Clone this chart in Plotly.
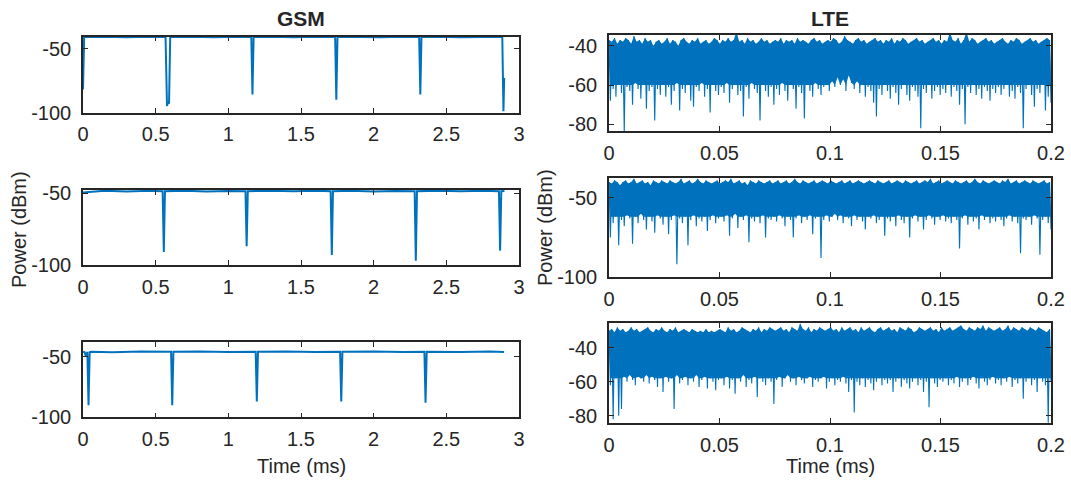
import numpy as np
import plotly.graph_objects as go

# ---------------- data ----------------
gsm_xticks = [0, 0.5, 1, 1.5, 2, 2.5, 3]
gsm_xticktext = ["0", "0.5", "1", "1.5", "2", "2.5", "3"]
lte_xticks = [0, 0.05, 0.1, 0.15, 0.2]
lte_xticktext = ["0", "0.05", "0.1", "0.15", "0.2"]

gsm1_t = [0, 0.008, 0.15, 0.3, 0.45, 0.568, 0.578, 0.585, 0.592, 0.6, 0.75, 0.9, 1.05,
          1.158, 1.166, 1.174, 1.3, 1.45, 1.6, 1.735, 1.743, 1.751, 1.9, 2.05, 2.2,
          2.313, 2.321, 2.329, 2.45, 2.6, 2.75, 2.885, 2.893, 2.898]
gsm1_p = [-82, -41, -40.7, -41.2, -40.8, -41, -95, -92, -93, -41, -40.8, -41.1, -40.7,
          -41, -86, -41, -40.8, -41.2, -40.7, -41, -90, -41, -40.9, -41.2, -40.8,
          -41, -86, -41, -40.8, -41.1, -40.9, -41, -99, -73]

gsm2_t = [0, 0.15, 0.3, 0.45, 0.548, 0.556, 0.564, 0.7, 0.85, 1.0, 1.118, 1.126, 1.134,
          1.3, 1.45, 1.6, 1.704, 1.712, 1.72, 1.85, 2.0, 2.15, 2.282, 2.29, 2.298,
          2.45, 2.6, 2.75, 2.862, 2.87, 2.878, 2.9]
gsm2_p = [-49.5, -48.3, -48.8, -48.4, -48.6, -91, -48.6, -48.3, -48.8, -48.5, -48.6, -87, -48.6,
          -48.4, -48.7, -48.3, -48.6, -93, -48.6, -48.4, -48.8, -48.5, -48.6, -97, -48.6,
          -48.3, -48.7, -48.4, -48.6, -90, -48.6, -48.5]

gsm3_t = [0, 0.012, 0.02, 0.03, 0.038, 0.046, 0.06, 0.2, 0.4, 0.606, 0.614, 0.622,
          0.8, 1.0, 1.188, 1.196, 1.204, 1.4, 1.6, 1.769, 1.777, 1.785,
          2.0, 2.2, 2.349, 2.357, 2.365, 2.6, 2.8, 2.897]
gsm3_p = [-46, -46.5, -50, -46.2, -90, -46.3, -46, -46.4, -45.8, -46.1, -90, -46.1,
          -45.9, -46.3, -46.1, -87, -46.1, -45.8, -46.2, -46.1, -87, -46.1,
          -45.9, -46.3, -46.1, -88, -46.1, -46.2, -45.9, -46.2]

# LTE: local maxima (peaks) and local minima (troughs) of the dense noise trace
lte1_peaks = [
    -37, -38, -36, -39, -37, -38, -36, -37, -39, -35, -38, -37, -39, -36, -38, -37, -40, -38, -37, -39,
    -38, -36, -39, -37, -38, -40, -37, -36, -38, -39, -37, -38, -36, -39, -38, -37, -39, -38, -36, -37,
    -39, -37, -38, -36, -38, -37, -33, -38, -37, -39, -36, -38, -37, -39, -38, -36, -38, -37, -39, -38,
    -37, -38, -36, -39, -37, -38, -37, -39, -36, -38, -37, -38, -39, -37, -36, -38, -37, -39, -38, -37,
    -38, -36, -37, -39, -38, -35, -37, -38, -39, -37, -36, -38, -37, -39, -38, -37, -36, -38, -37, -39,
    -37, -38, -36, -39, -37, -38, -36, -37, -39, -38, -37, -36, -38, -37, -39, -38, -37, -36, -38, -37,
    -39, -37, -38, -33, -37, -38, -36, -39, -37, -33, -38, -36, -37, -39, -38, -37, -36, -38, -37, -39,
    -38, -37, -36, -38, -39, -37, -38, -36, -37, -39, -38, -37, -36, -38, -37, -39, -38, -37, -36, -37]
lte1_troughs = [
    -68, -62, -66, -60, -64, -84, -61, -63, -70, -59, -62, -67, -60, -72, -63, -61, -78, -62, -65, -60,
    -66, -61, -70, -63, -59, -73, -62, -64, -60, -68, -71, -61, -63, -59, -66, -62, -74, -60, -63, -65,
    -61, -64, -59, -69, -62, -60, -65, -63, -76, -61, -67, -59, -62, -64, -78, -60, -63, -66, -61, -70,
    -62, -65, -59, -63, -68, -60, -62, -72, -61, -64, -77, -60, -63, -66, -59, -62, -65, -61, -60, -63,
    -58, -61, -56, -60, -57, -63, -55, -59, -62, -58, -64, -60, -66, -61, -63, -69, -76, -62, -65, -60,
    -63, -67, -61, -64, -70, -62, -60, -65, -68, -61, -63, -66, -82, -62, -64, -60, -67, -63, -61, -65,
    -62, -64, -60, -66, -61, -63, -70, -62, -80, -61, -64, -60, -65, -62, -67, -61, -63, -68, -62, -64,
    -61, -65, -62, -60, -66, -63, -67, -61, -64, -82, -62, -60, -65, -71, -62, -64, -60, -73, -66, -69]

lte2_peaks = [
    -40, -41, -39, -40, -42, -40, -39, -41, -40, -38, -41, -40, -39, -41, -40, -42, -39, -40, -41, -39,
    -40, -41, -39, -40, -41, -40, -38, -41, -40, -39, -41, -40, -38, -40, -41, -39, -40, -41, -40, -39,
    -41, -40, -39, -40, -38, -41, -40, -39, -41, -40, -42, -39, -40, -41, -39, -40, -41, -40, -39, -41,
    -40, -39, -41, -40, -39, -41, -40, -38, -40, -41, -39, -40, -41, -40, -39, -41, -40, -39, -40, -41,
    -39, -40, -41, -40, -39, -41, -40, -39, -41, -40, -39, -40, -41, -40, -39, -40, -41, -39, -40, -41,
    -40, -39, -41, -40, -39, -40, -41, -39, -40, -41, -40, -39, -41, -40, -39, -40, -38, -41, -40, -39,
    -41, -40, -39, -40, -41, -39, -40, -41, -40, -39, -41, -40, -38, -40, -41, -39, -40, -41, -40, -39,
    -40, -41, -39, -40, -38, -41, -40, -39, -41, -40, -39, -40, -41, -39, -40, -41, -40, -39, -41, -40]
lte2_troughs = [
    -75, -66, -62, -80, -64, -68, -61, -63, -79, -62, -66, -60, -64, -70, -62, -65, -72, -61, -63, -67,
    -62, -73, -64, -61, -92, -63, -66, -62, -80, -64, -61, -68, -63, -65, -62, -71, -64, -61, -66, -63,
    -62, -65, -61, -74, -63, -60, -69, -62, -64, -61, -78, -63, -65, -62, -66, -61, -75, -63, -64, -62,
    -65, -61, -63, -68, -62, -64, -75, -63, -61, -66, -62, -64, -61, -73, -63, -62, -88, -64, -61, -65,
    -62, -60, -64, -61, -66, -62, -63, -68, -61, -64, -62, -65, -70, -62, -63, -61, -66, -64, -62, -74,
    -63, -65, -62, -68, -61, -64, -66, -62, -75, -63, -61, -65, -62, -70, -64, -61, -63, -67, -62, -64,
    -61, -65, -63, -66, -62, -64, -82, -63, -61, -67, -62, -65, -63, -70, -61, -64, -62, -66, -63, -65,
    -62, -64, -68, -63, -61, -65, -62, -66, -85, -63, -64, -62, -67, -61, -63, -86, -64, -62, -66, -70]

lte3_peaks = [
    -30, -29, -31, -28, -30, -29, -31, -30, -28, -30, -29, -31, -30, -29, -28, -30, -31, -29, -30, -28,
    -30, -31, -29, -30, -28, -31, -30, -29, -30, -31, -29, -30, -31, -30, -31, -29, -31, -30, -31, -30,
    -29, -30, -31, -28, -30, -29, -31, -30, -28, -29, -30, -31, -29, -30, -28, -31, -29, -30, -28, -29,
    -30, -29, -28, -30, -29, -31, -28, -29, -30, -26, -29, -30, -28, -31, -29, -30, -28, -29, -30, -29,
    -28, -30, -29, -31, -28, -30, -29, -28, -30, -29, -31, -28, -30, -29, -28, -30, -31, -29, -28, -30,
    -29, -28, -30, -29, -31, -28, -29, -30, -28, -29, -31, -30, -28, -29, -30, -29, -28, -30, -29, -31,
    -28, -30, -29, -28, -30, -29, -28, -27, -29, -30, -28, -29, -30, -28, -29, -27, -30, -28, -29, -30,
    -29, -28, -30, -29, -27, -30, -28, -29, -30, -28, -29, -30, -28, -29, -30, -28, -29, -30, -31, -29]
lte3_troughs = [
    -62, -82, -58, -80, -76, -57, -60, -56, -59, -62, -57, -58, -60, -56, -61, -57, -59, -63, -58, -66,
    -57, -60, -58, -76, -56, -61, -59, -57, -62, -58, -60, -56, -63, -59, -57, -64, -58, -60, -65, -59,
    -58, -62, -57, -64, -59, -67, -58, -60, -56, -63, -59, -61, -57, -69, -58, -60, -62, -58, -60, -73,
    -59, -57, -63, -58, -56, -60, -58, -62, -57, -59, -61, -58, -57, -63, -59, -60, -58, -57, -64, -60,
    -58, -62, -59, -60, -57, -61, -66, -59, -78, -60, -62, -58, -63, -59, -61, -65, -60, -58, -62, -59,
    -61, -59, -66, -60, -58, -63, -59, -61, -64, -60, -58, -62, -59, -66, -60, -75, -58, -61, -63, -59,
    -60, -58, -62, -59, -61, -57, -63, -60, -58, -62, -59, -57, -61, -64, -58, -60, -62, -59, -57, -61,
    -59, -62, -58, -60, -57, -63, -59, -61, -58, -70, -60, -58, -62, -59, -66, -58, -60, -62, -84, -60]

# ---------------- layout helpers ----------------
W, H = 1071, 482
BLUE = "#0072BD"
DARK = "#262626"
FONT = "Liberation Sans, Arial, Helvetica, sans-serif"


def xd(a, b):
    return [a / W, b / W]


def yd(top, bot):
    return [1 - bot / H, 1 - top / H]


panels = [
    ("1", gsm1_t, gsm1_p, xd(83, 519), yd(36.5, 112.5), [-100, -40.6], [-100, -50], gsm_xticks, gsm_xticktext, 2.0, None),
    ("2", None, None, xd(609, 1051), yd(35, 131), [-83.4, -34.5], [-80, -60, -40], lte_xticks, lte_xticktext, 1.1, -60),
    ("3", gsm2_t, gsm2_p, xd(83, 519), yd(190, 265), [-100, -47.8], [-100, -50], gsm_xticks, gsm_xticktext, 2.0, None),
    ("4", None, None, xd(609, 1051), yd(178, 277), [-100, -37.5], [-100, -50], lte_xticks, lte_xticktext, 1.1, -62),
    ("5", gsm3_t, gsm3_p, xd(83, 519), yd(341.7, 417.3), [-100, -37.8], [-100, -50], gsm_xticks, gsm_xticktext, 2.0, None),
    ("6", None, None, xd(609, 1051), yd(323, 423), [-84.2, -25.5], [-80, -60, -40], lte_xticks, lte_xticktext, 1.1, -58),
]
lte_data = {"2": (lte1_peaks, lte1_troughs), "4": (lte2_peaks, lte2_troughs), "6": (lte3_peaks, lte3_troughs)}

fig = go.Figure()
layout = dict(
    template="none",
    width=W, height=H, margin=dict(l=0, r=0, t=0, b=0, pad=0), autosize=False,
    paper_bgcolor="white", plot_bgcolor="white", showlegend=False,
    font=dict(family=FONT, color=DARK, size=20),
)

for name, xs, ys, xdom, ydom, yr, ytk, xtk, xtt, lw, core in panels:
    sfx = "" if name == "1" else name
    ax = dict(xaxis="x" + sfx, yaxis="y" + sfx, hoverinfo="skip")
    if xs is None:
        peaks, troughs = lte_data[name]
        n = len(peaks) + len(troughs)
        t = np.linspace(0, 0.2, n)
        y = np.empty(n)
        y[0::2] = peaks
        y[1::2] = troughs
        # solid core of the dense noise band (deep minima are drawn by the line itself)
        fig.add_trace(go.Scatter(x=t[0::2], y=peaks, mode="lines",
                                 line=dict(width=0, color=BLUE, simplify=False), **ax))
        fig.add_trace(go.Scatter(x=t[1::2], y=np.maximum(troughs, core), mode="lines", fill="tonexty",
                                 fillcolor=BLUE, line=dict(width=0, color=BLUE, simplify=False), **ax))
        xs, ys = t, y
        xr = [0, 0.2]
    else:
        xr = [0, 3]
    fig.add_trace(go.Scatter(x=xs, y=ys, mode="lines",
                             line=dict(color=BLUE, width=lw, simplify=False), **ax))
    common = dict(showline=True, linecolor=DARK, linewidth=1.6, mirror="allticks",
                  ticks="inside", ticklen=5, tickwidth=1.2, tickcolor=DARK, automargin=False,
                  showgrid=False, zeroline=False, tickfont=dict(size=20, color=DARK, family=FONT))
    layout["xaxis" + sfx] = dict(domain=xdom, range=xr, anchor="y" + sfx,
                                 tickvals=xtk, ticktext=xtt, ticklabelstandoff=3, **common)
    layout["yaxis" + sfx] = dict(domain=ydom, range=yr, anchor="x" + sfx,
                                 tickvals=ytk, ticktext=[str(v) for v in ytk],
                                 ticklabelstandoff=6, **common)

fig.update_layout(**layout)

ann = [
    dict(text="<b>GSM</b>", x=301 / W, y=1 - 19 / H, font=dict(size=21)),
    dict(text="<b>LTE</b>", x=830 / W, y=1 - 19 / H, font=dict(size=21)),
    dict(text="Time (ms)", x=301 / W, y=1 - 466 / H, font=dict(size=20)),
    dict(text="Time (ms)", x=830 / W, y=1 - 466 / H, font=dict(size=20)),
    dict(text="Power (dBm)", x=19 / W, y=1 - 230 / H, textangle=-90, font=dict(size=20)),
    dict(text="Power (dBm)", x=545 / W, y=1 - 228 / H, textangle=-90, font=dict(size=20)),
]
for a in ann:
    a.update(xref="paper", yref="paper", showarrow=False, xanchor="center", yanchor="middle")
    a["font"].update(color=DARK, family=FONT)
fig.update_layout(annotations=ann)

fig.write_html("out.html", post_script="document.body.style.margin='0px';document.body.style.overflow='hidden';")
